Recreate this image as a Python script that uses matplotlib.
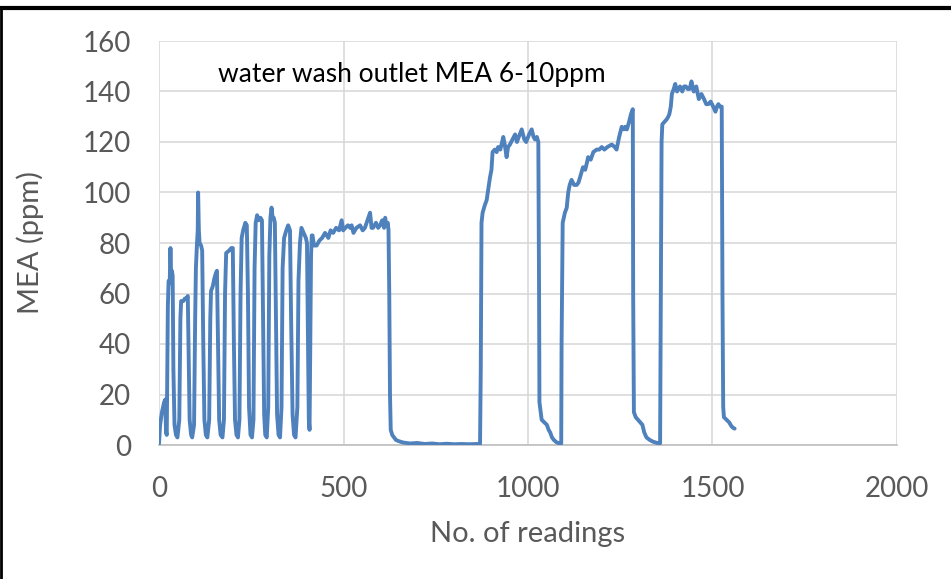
import matplotlib
matplotlib.use("Agg")
import matplotlib.pyplot as plt
from matplotlib.lines import Line2D

# Readings (x) and MEA concentration in ppm (y)
readings = [
    0, 3, 8, 14, 17, 19, 21, 24, 26, 29, 31, 33, 35, 37, 39, 42, 46, 50,
    55, 58, 60, 66, 70, 74, 78, 80, 83, 87, 90,
    95, 98, 100, 103, 105, 106, 108, 110, 114, 117, 120, 123, 127, 131,
    136, 139, 141, 146, 150, 154, 157, 160, 163, 167, 172,
    176, 179, 182, 190, 196, 200, 203, 206, 210, 214,
    218, 221, 224, 228, 234, 238, 241, 244, 248, 252,
    256, 259, 262, 266, 270, 275, 279, 282, 285, 288, 292,
    296, 299, 302, 305, 308, 311, 314, 317, 320, 324, 328,
    332, 335, 339, 345, 350, 355, 358, 362, 366, 370,
    375, 378, 382, 386, 392, 398, 401, 404, 406, 408,
    410, 412, 414, 416, 420, 427, 435, 442, 450, 455, 459, 465, 472, 480,
    488, 495, 499, 505, 512, 518, 522, 527, 535, 545, 552, 558, 565, 572,
    576, 580, 588, 594, 599, 605, 610, 613, 616, 620, 622, 624, 626, 628,
    632, 637, 642, 650, 661, 680, 700, 720, 740, 760, 780, 800, 820, 840,
    860, 870,
    872, 874, 877, 883, 888, 893, 897, 901, 904, 910, 915, 919, 925, 933,
    937, 942, 946, 951, 958, 965, 970, 975, 983, 990, 995, 1003, 1010, 1015,
    1019, 1024, 1028, 1030, 1031, 1037, 1044, 1051, 1056, 1060, 1065, 1070,
    1078, 1087, 1090,
    1091, 1094, 1100, 1105, 1109, 1113, 1118, 1125, 1132, 1137, 1143, 1149,
    1155, 1160, 1163, 1170, 1177, 1186, 1193, 1200, 1207, 1215, 1227, 1235,
    1240, 1247, 1254, 1260, 1263, 1268, 1274, 1279, 1284, 1285, 1287, 1292,
    1298, 1304, 1310, 1315, 1321, 1330, 1339, 1350, 1358,
    1360, 1362, 1364, 1370, 1376, 1380, 1383, 1387, 1390, 1395, 1399, 1404,
    1412, 1418, 1423, 1428, 1433, 1438, 1443, 1449, 1453, 1456, 1460, 1463,
    1470, 1477, 1483, 1489, 1495, 1502, 1508, 1512, 1516, 1520, 1525, 1527,
    1529, 1531, 1538, 1545, 1552, 1558, 1560,
]
mea_ppm = [
    0.5, 8, 13, 17, 18, 5, 4, 55, 65, 64, 78, 66, 69, 67, 30, 8, 4, 3,
    10, 50, 57, 57, 58, 58, 59, 40, 10, 4, 3,
    8, 50, 70, 80, 85, 100, 85, 80, 79, 77, 40, 10, 4, 3,
    10, 50, 61, 63, 66, 68, 69, 40, 10, 4, 3,
    10, 60, 76, 77, 78, 78, 40, 10, 4, 3,
    10, 60, 82, 85, 88, 87, 60, 15, 4, 3,
    10, 70, 88, 91, 89, 90, 89, 50, 12, 4, 3,
    15, 75, 90, 94, 90, 90, 88, 50, 12, 4, 3,
    15, 70, 82, 85, 87, 85, 50, 12, 4, 3,
    15, 65, 80, 86, 84, 82, 80, 40, 10, 6,
    40, 75, 83, 83, 79, 79, 81, 82, 84, 83, 82, 85, 84, 86,
    85, 89, 85, 86, 87, 86, 87, 84, 86, 87, 85, 86, 89, 92,
    86, 86, 88, 86, 87, 89, 86, 90, 87, 88, 85, 60, 20, 6,
    4, 3, 2, 1.5, 1, 0.6, 0.8, 0.4, 0.6, 0.3, 0.5, 0.3, 0.4, 0.3,
    0.4, 0.4,
    30, 88, 92, 95, 97, 102, 106, 109, 116, 117, 116, 118, 117, 122,
    119, 114, 118, 119, 121, 123, 120, 122, 125, 121, 120, 123, 125, 122,
    121, 122, 120, 60, 17, 10, 9, 8, 6, 5, 3, 2,
    1, 0.6, 0.6,
    40, 88, 92, 94, 100, 103, 105, 103, 103, 104, 107, 110,
    109, 112, 114, 113, 116, 117, 117, 118, 117, 118, 119, 118,
    117, 122, 126, 125, 126, 125, 128, 131, 133, 60, 13, 11,
    10, 9, 8, 5, 3, 2, 1.3, 0.8, 0.7,
    60, 120, 127, 128, 129, 130, 131, 134, 139, 141, 143, 140,
    142, 140, 142, 142, 141, 141, 144, 140, 141, 142, 139, 137,
    139, 137, 135, 135, 136, 134, 132, 134, 135, 134, 134, 60,
    15, 11, 10, 9, 7.3, 6.6, 6.5,
]

x_ticks = [0, 500, 1000, 1500, 2000]
y_ticks = [0, 20, 40, 60, 80, 100, 120, 140, 160]
x_label = "No. of readings"
y_label = "MEA (ppm)"
note = "water wash outlet MEA 6-10ppm"

plt.rcParams["font.family"] = ["Lato", "DejaVu Sans"]

fig = plt.figure(figsize=(9.51, 5.79), dpi=100)
fig.patch.set_facecolor("white")
ax = fig.add_axes([159 / 951, 1 - 445 / 579, 738 / 951, 404 / 579])

ax.plot(readings, mea_ppm, color="#4f81bd", linewidth=2.8,
        solid_joinstyle="round", solid_capstyle="round", zorder=3)

ax.set_xlim(0, 2000)
ax.set_ylim(0, 160)
ax.set_xticks(x_ticks)
ax.set_yticks(y_ticks)
ax.grid(True, color="#d9d9d9", linewidth=1.2, zorder=0)
ax.set_axisbelow(True)
for side in ["top", "right", "left"]:
    ax.spines[side].set_visible(False)
ax.spines["bottom"].set_color("#bfbfbf")
ax.spines["bottom"].set_linewidth(1.2)
ax.tick_params(axis="both", length=0, labelsize=20, colors="#595959")
ax.tick_params(axis="y", pad=20)
ax.tick_params(axis="x", pad=22)

ax.set_xlabel(x_label, fontsize=21, color="#595959", labelpad=14)
ax.set_ylabel(y_label, fontsize=21, color="#595959", labelpad=28)

ax.text(0.08, 0.918, note, transform=ax.transAxes, fontsize=19,
        color="black", va="center", ha="left")

# black frame lines (top and left) as in the reference
fig.add_artist(Line2D([0, 1], [1 - 8 / 579, 1 - 8 / 579],
                      transform=fig.transFigure, color="black", linewidth=3))
fig.add_artist(Line2D([1 / 951, 1 / 951], [0, 1 - 8 / 579],
                      transform=fig.transFigure, color="black", linewidth=2))

fig.savefig("out.png", dpi=100)
